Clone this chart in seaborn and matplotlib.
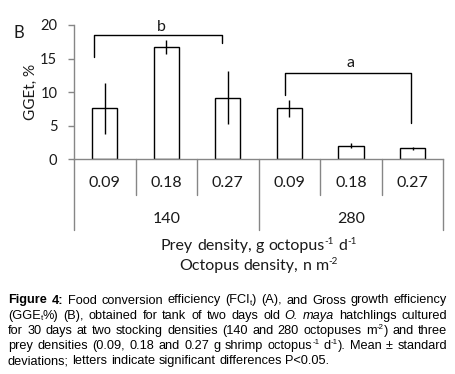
import re
import matplotlib
matplotlib.use("Agg")
import matplotlib.pyplot as plt
import matplotlib.transforms as mtransforms
import pandas as pd
import seaborn as sns

# ── Data ───────────────────────────────────────────────────────────────────────
prey_density = ["0.09", "0.18", "0.27", "0.09", "0.18", "0.27"]
octopus_density = ["140", "280"]
gge_mean = [7.6, 16.7, 9.2, 7.6, 2.05, 1.65]
gge_sd = [3.8, 1.0, 4.0, 1.3, 0.4, 0.25]
group_letters = ["b", "a"]

# ── Style ──────────────────────────────────────────────────────────────────────
sns.set_theme(style="white")
plt.rcParams["font.family"] = ["Lato", "DejaVu Sans"]

GRAY = "#868686"
TXT = "#1a1a1a"

W, H, DPI = 4.55, 3.74, 100
fig = plt.figure(figsize=(W, H), dpi=DPI)
renderer = fig.canvas.get_renderer()
FIG_W, FIG_H = W * DPI, H * DPI


def _runs(word):
    """Split 'octopus^{-1}' into [('octopus', ''), ('-1', 'sup')]."""
    out = []
    for p in re.split(r"(\^\{[^}]*\}|_\{[^}]*\})", word):
        if not p:
            continue
        if p.startswith("^{"):
            out.append((p[2:-1], "sup"))
        elif p.startswith("_{"):
            out.append((p[2:-1], "sub"))
        else:
            out.append((p, ""))
    return out


def draw_line(words, x0, y, fs, family, color=TXT, x1=None, ha="left"):
    """Draw words (text, style) on one baseline; justify between x0..x1 if given."""
    kw = dict(family=family, color=color, va="baseline")
    probe = fig.text(0, 0, "n n", fontsize=fs, **kw)
    probe1 = fig.text(0, 0, "nn", fontsize=fs, **kw)
    space = (probe.get_window_extent(renderer).width
             - probe1.get_window_extent(renderer).width) / FIG_W
    probe.remove()
    probe1.remove()

    groups = []
    for word, st in words:
        pieces = []
        for txt, kind in _runs(word):
            size = fs * 0.62 if kind else fs
            dy = {"sup": 0.38, "sub": -0.14, "": 0}[kind] * fs * DPI / 72 / FIG_H
            t = fig.text(0, y + dy, txt, fontsize=size,
                         fontweight="bold" if st == "b" else "normal",
                         fontstyle="italic" if st == "i" else "normal", **kw)
            pieces.append((t, t.get_window_extent(renderer).width / FIG_W))
        groups.append(pieces)
    widths = [sum(w for _, w in g) for g in groups]
    total = sum(widths) + space * (len(groups) - 1)
    gap = space
    if x1 is not None:
        gap = (x1 - x0 - sum(widths)) / (len(groups) - 1)
    elif ha == "center":
        x0 = x0 - total / 2
    x = x0
    for g, w in zip(groups, widths):
        xx = x
        for t, tw in g:
            t.set_x(xx)
            xx += tw
        x += w + gap


ax = fig.add_axes([74 / 455, 1 - 159.3 / 374, (443.3 - 74) / 455, 134.3 / 374])

df = pd.DataFrame({
    "cond": [f"{o}-{p}" for o in octopus_density for p in prey_density[:3]],
    "gge": gge_mean,
})
sns.barplot(data=df, x="cond", y="gge", color="white", edgecolor="black",
            linewidth=1.0, width=0.41, errorbar=None, saturation=1, ax=ax)
ax.errorbar(range(len(gge_mean)), gge_mean, yerr=gge_sd, fmt="none",
            ecolor="black", elinewidth=1.0, capsize=0)

ax.set_ylim(0, 20)
ax.set_xlim(-0.5, 5.5)
ax.set_yticks([0, 5, 10, 15, 20])
ax.set_xlabel("")
ax.set_ylabel("GGEt, %", fontsize=11, color=TXT, labelpad=2)
ax.tick_params(axis="y", direction="out", length=4, width=1, color=GRAY,
               labelsize=10.5, labelcolor=TXT, pad=8, left=True)
ax.tick_params(axis="x", length=0, labelbottom=False)
for s in ["top", "right"]:
    ax.spines[s].set_visible(False)
for s in ["left", "bottom"]:
    ax.spines[s].set_color(GRAY)
    ax.spines[s].set_linewidth(1.0)

# ── Table below the axis ───────────────────────────────────────────────────────
trans = mtransforms.blended_transform_factory(ax.transData, ax.transAxes)
for xb in [0.5, 1.5, 3.5, 4.5]:
    ax.plot([xb, xb], [0, -0.266], color=GRAY, lw=1, transform=trans, clip_on=False)
for xb in [-0.5, 2.5, 5.5]:
    ax.plot([xb, xb], [0, -0.526], color=GRAY, lw=1, transform=trans, clip_on=False)
for i, lab in enumerate(prey_density):
    ax.text(i, -0.176, lab, transform=trans, ha="center", va="center",
            fontsize=11.5, color=TXT)
for j, lab in enumerate(octopus_density):
    ax.text(1 + 3 * j, -0.445, lab, transform=trans, ha="center", va="center",
            fontsize=11.5, color=TXT)

# ── Significance brackets ──────────────────────────────────────────────────────
ax.plot([-0.17, -0.17, 1.9, 1.9], [15.2, 18.5, 18.5, 17.3], color="black", lw=1, clip_on=False)
ax.plot([2.93, 2.93, 4.98, 4.98], [9.6, 12.8, 12.8, 5.45], color="black", lw=1, clip_on=False)
ax.text(0.925, 19.15, group_letters[0], ha="center", va="baseline", fontsize=11.5, color=TXT)
ax.text(4.0, 13.8, group_letters[1], ha="center", va="baseline", fontsize=11.5, color=TXT)

fig.text(18.7 / 455, 1 - 32.7 / 374, "B", ha="center", va="center", fontsize=12, color=TXT)

# ── Axis titles under the table ────────────────────────────────────────────────
xc = (74 + 443.3) / 2 / 455
draw_line([(w, "") for w in "Prey density, g octopus^{-1} d^{-1}".split()],
          xc, 1 - 250 / 374, 11.5, "Lato", ha="center")
draw_line([(w, "") for w in "Octopus density, n m^{-2}".split()],
          xc, 1 - 270 / 374, 11.5, "Lato", ha="center")

# ── Caption (justified) ────────────────────────────────────────────────────────
CAP_FS = 9.2


def _words(s, style=""):
    return [(w, style) for w in s.split()]


cap_lines = [
    _words("Figure 4:", "b") + _words("Food conversion efficiency (FCI_{t}) (A), and Gross growth efficiency"),
    _words("(GGE_{t}%) (B), obtained for tank of two days old") + _words("O. maya", "i")
    + _words("hatchlings cultured"),
    _words("for 30 days at two stocking densities (140 and 280 octopuses m^{-2}) and three"),
    _words("prey densities (0.09, 0.18 and 0.27 g shrimp octopus^{-1} d^{-1}). Mean ± standard"),
    _words("deviations; letters indicate significant differences P<0.05."),
]

x0, x1 = 8 / 455, 447 / 455
for li, words in enumerate(cap_lines):
    y = 1 - (303.5 + 15.2 * li) / 374
    last = li == len(cap_lines) - 1
    draw_line(words, x0, y, CAP_FS, "Liberation Sans", color="black",
              x1=None if last else x1)

fig.savefig("out.png", dpi=DPI)
